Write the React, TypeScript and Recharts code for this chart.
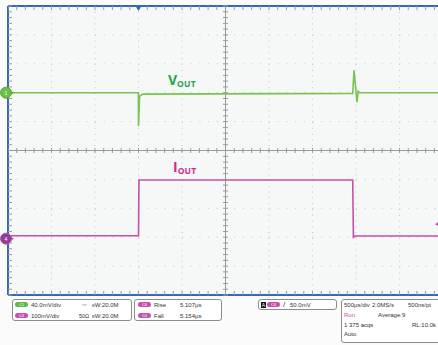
import React from 'react';
import {
  ComposedChart, Line, XAxis, YAxis, CartesianGrid, ReferenceDot, ReferenceLine, Scatter,
} from 'recharts';

// 500 µs/div, trigger at t = 0 (times in ms); the window runs a little past the 10th division
const timeDomain = [-1.5, 3.58];
const divDomain = [0, 10.16];
// C1 (Vout) 40 mV/div, C4 (Iout sense) 100 mV/div, ranges set by channel offsets
const voutDomain = [-280, 120];
const ioutDomain = [-195, 805];

const voutTime = [-1.5, -0.002, 0, 0.012, 0.05, 2.462, 2.477, 2.511, 2.525, 2.54, 3.58];
const voutMv = [0, 0, -46, -5, -2, -1, 31, -13, 2, 0, 0];

const ioutTime = [-1.5, 0, 0.005, 2.462, 2.47, 2.49, 3.58];
const ioutMv = [10, 10, 203, 203, 5, 9, 9];

const triggerLevel = 50;
const triggerMarkTime = 3.5;

// graticule (division units); the right edge sits just outside the picture
const majorX = [0, 1, 2, 3, 4, 5, 6, 7, 8, 9];
const majorY = [-5, -4, -3, -2, -1, 0, 1, 2, 3, 4, 5];
const minorX = Array.from({ length: 50 }, (_, i) => i * 0.2);
const minorY = Array.from({ length: 51 }, (_, i) => -5 + i * 0.2);

const BLUE = '#3467c0';
const GREEN = '#78c450';
const MAGENTA = '#c64fa8';
const GRID = '#c4c4c4';
const TICK = '#9a9a9a';

const voutData = voutTime.map((t, i) => ({ t, v: voutMv[i] }));
const ioutData = ioutTime.map((t, i) => ({ t, v: ioutMv[i] }));
const centerH = minorX.map((x) => ({ x, y: 0 }));
const centerV = minorY.map((y) => ({ x: 5, y }));
const topTicks = minorX.map((x) => ({ x, y: 5 }));
const bottomTicks = minorX.map((x) => ({ x, y: -5 }));
const leftTicks = minorY.map((y) => ({ x: 0, y }));

const tick = (dx1: number, dy1: number, dx2: number, dy2: number) => (p: any) => (
  <line x1={p.cx + dx1} y1={p.cy + dy1} x2={p.cx + dx2} y2={p.cy + dy2} stroke={TICK} strokeWidth={1} />
);

const GroundMark = (color: string, rim: string, label: string) => (p: any) => (
  <g>
    <path d={`M${p.cx + 2} ${p.cy - 2.5} L${p.cx + 6} ${p.cy} L${p.cx + 2} ${p.cy + 2.5} Z`} fill={rim} />
    <circle cx={p.cx - 2} cy={p.cy} r={5.5} fill={color} stroke={rim} strokeWidth={1} />
    <text x={p.cx - 2} y={p.cy + 2} fontSize={5} fill="#fff" textAnchor="middle" fontFamily="Arial">{label}</text>
  </g>
);

const TrigPos = (p: any) => (
  <path d={`M${p.cx - 3} ${p.cy} L${p.cx + 3} ${p.cy} L${p.cx} ${p.cy + 5} Z`} fill={BLUE} />
);
const TrigLevel = (p: any) => (
  <path d={`M${p.cx - 8} ${p.cy} L${p.cx - 4} ${p.cy - 2.5} L${p.cx - 4} ${p.cy + 2.5} Z`} fill={MAGENTA} />
);

function T({ x, y, children, color = '#333', size = 6 }: any) {
  return (
    <div style={{
      position: 'absolute', left: x, top: y - 4, fontSize: size, lineHeight: '8px',
      color, whiteSpace: 'nowrap', fontFamily: '"Liberation Sans", Arial, sans-serif',
    }}>{children}</div>
  );
}

function Pill({ x, y, color, label }: any) {
  return (
    <div style={{
      position: 'absolute', left: x, top: y - 2.5, width: 13, height: 5, borderRadius: 2.5,
      background: color, color: '#fff', fontSize: 4, lineHeight: '5px', textAlign: 'center',
      fontFamily: 'Arial, sans-serif',
    }}>{label}</div>
  );
}

function Box({ x, y, w, h }: any) {
  return (
    <div style={{
      position: 'absolute', left: x, top: y, width: w, height: h, boxSizing: 'border-box',
      border: '1px solid #8c8c8c', borderRadius: 3, background: '#fff',
    }} />
  );
}

const labelStyle: React.CSSProperties = {
  position: 'absolute', fontWeight: 700, fontFamily: '"Open Sans", Arial, sans-serif',
  fontSize: 14, lineHeight: '16px', whiteSpace: 'nowrap',
};
const subStyle: React.CSSProperties = {
  fontSize: 8.5, letterSpacing: 0.2, position: 'relative', top: 2,
};

export default function App() {
  return (
    <div style={{
      position: 'fixed', left: 0, top: 0, width: 438, height: 345, overflow: 'hidden',
      background: '#fbfbfb',
    }}>
      <ComposedChart width={438} height={300} margin={{ top: 6, right: -12, bottom: 5, left: 8 }}
        style={{ overflow: 'hidden' }}>
        <XAxis xAxisId="t" type="number" dataKey="t" domain={timeDomain} hide allowDataOverflow />
        <YAxis yAxisId="v" type="number" domain={voutDomain} hide allowDataOverflow />
        <YAxis yAxisId="i" type="number" domain={ioutDomain} hide allowDataOverflow />
        <XAxis xAxisId="div" type="number" dataKey="x" domain={divDomain} ticks={majorX} hide allowDataOverflow />
        <YAxis yAxisId="div" type="number" dataKey="y" domain={[-5, 5]} ticks={majorY} hide />

        <CartesianGrid xAxisId="div" yAxisId="div" vertical={false} fill="#f6f7f7"
          stroke={GRID} strokeDasharray="1 7.7" />
        <CartesianGrid xAxisId="div" yAxisId="div" horizontal={false}
          stroke={GRID} strokeDasharray="1 4.8" />

        <Scatter xAxisId="div" yAxisId="div" data={centerH} shape={tick(0, -2.5, 0, 2.5)} isAnimationActive={false} />
        <Scatter xAxisId="div" yAxisId="div" data={centerV} shape={tick(-2.5, 0, 2.5, 0)} isAnimationActive={false} />
        <Scatter xAxisId="div" yAxisId="div" data={topTicks} shape={tick(0, 0, 0, 4)} isAnimationActive={false} />
        <Scatter xAxisId="div" yAxisId="div" data={bottomTicks} shape={tick(0, 0, 0, -4)} isAnimationActive={false} />
        <Scatter xAxisId="div" yAxisId="div" data={leftTicks} shape={tick(0, 0, 4, 0)} isAnimationActive={false} />
        <ReferenceLine xAxisId="div" yAxisId="div" y={0} stroke={TICK} />
        <ReferenceLine xAxisId="div" yAxisId="div" x={5} stroke={TICK} />

        <ReferenceLine xAxisId="div" yAxisId="div" y={5} stroke={BLUE} strokeWidth={2} />
        <ReferenceLine xAxisId="div" yAxisId="div" y={-5} stroke={BLUE} strokeWidth={2} />
        <ReferenceLine xAxisId="div" yAxisId="div" x={0} stroke={BLUE} strokeWidth={2} />

        <Line xAxisId="t" yAxisId="v" data={voutData} dataKey="v" type="linear" stroke={GREEN}
          strokeWidth={1.6} dot={false} isAnimationActive={false} />
        <Line xAxisId="t" yAxisId="i" data={ioutData} dataKey="v" type="linear" stroke={MAGENTA}
          strokeWidth={1.6} dot={false} isAnimationActive={false} />

        <ReferenceDot xAxisId="t" yAxisId="v" x={timeDomain[0]} y={0}
          shape={GroundMark('#6cbf45', '#58a836', '1')} />
        <ReferenceDot xAxisId="t" yAxisId="i" x={timeDomain[0]} y={0}
          shape={GroundMark('#8a3f98', '#c64fa8', '4')} />
        <ReferenceDot xAxisId="t" yAxisId="v" x={0} y={voutDomain[1]} shape={TrigPos} />
        <ReferenceDot xAxisId="t" yAxisId="i" x={triggerMarkTime} y={triggerLevel} shape={TrigLevel} />
      </ComposedChart>

      {/* trace labels */}
      <div style={{ ...labelStyle, left: 168, top: 72, color: '#1ea64a' }}>
        V<span style={subStyle}>OUT</span>
      </div>
      <div style={{ ...labelStyle, left: 173, top: 159, color: '#d42a8c' }}>
        I<span style={subStyle}>OUT</span>
      </div>

      {/* readout panel */}
      <Box x={12} y={299} w={120} h={22} />
      <Pill x={15} y={304.5} color="#5cb947" label="C1" />
      <T x={31} y={304.5}>40.0mV/div</T>
      <T x={82} y={304.5}>⎓</T>
      <T x={92} y={304.5}><span style={{ fontSize: 4 }}>B</span>W:20.0M</T>
      <Pill x={15} y={315.5} color={MAGENTA} label="C4" />
      <T x={31} y={315.5}>100mV/div</T>
      <T x={79} y={315.5} size={5.5}>50Ω</T>
      <T x={92} y={315.5}><span style={{ fontSize: 4 }}>B</span>W:20.0M</T>

      <Box x={134} y={299} w={88} h={22} />
      <Pill x={138} y={304.5} color={MAGENTA} label="C4" />
      <T x={154} y={304.5}>Rise</T>
      <T x={180} y={304.5}>5.107µs</T>
      <Pill x={138} y={315.5} color={MAGENTA} label="C4" />
      <T x={154} y={315.5}>Fall</T>
      <T x={180} y={315.5}>5.154µs</T>

      <Box x={258} y={299} w={79} h={11} />
      <div style={{
        position: 'absolute', left: 261, top: 301.5, width: 5, height: 6, background: '#111',
        color: '#fff', fontSize: 5, lineHeight: '6px', textAlign: 'center', fontFamily: 'Arial',
      }}>A</div>
      <Pill x={267} y={304.5} color={MAGENTA} label="C4" />
      <T x={283} y={304.5} size={8}>/</T>
      <T x={290} y={304.5}>50.0mV</T>

      <Box x={341} y={299} w={105} h={44} />
      <T x={344} y={304.5}>500µs/div</T>
      <T x={372} y={304.5}>2.0MS/s</T>
      <T x={408} y={304.5}>500ns/pt</T>
      <T x={344} y={315} color={MAGENTA}>Run</T>
      <T x={378} y={315}>Average:9</T>
      <T x={344} y={324.5}>1 375 acqs</T>
      <T x={412} y={324.5}>RL:10.0k</T>
      <T x={344} y={334}>Auto</T>
    </div>
  );
}
